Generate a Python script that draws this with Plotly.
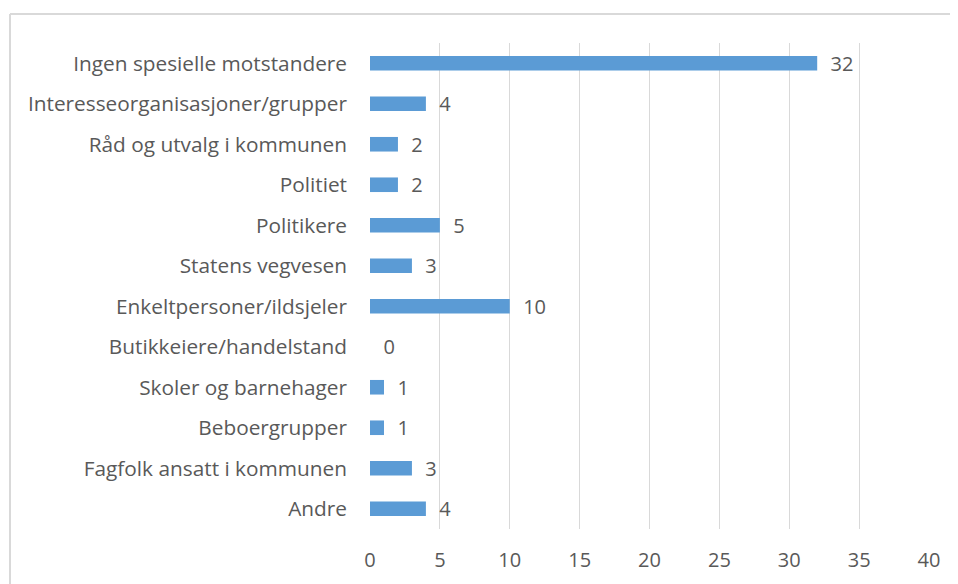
import plotly.graph_objects as go

categories = [
    "Ingen spesielle motstandere",
    "Interesseorganisasjoner/grupper",
    "Råd og utvalg i kommunen",
    "Politiet",
    "Politikere",
    "Statens vegvesen",
    "Enkeltpersoner/ildsjeler",
    "Butikkeiere/handelstand",
    "Skoler og barnehager",
    "Beboergrupper",
    "Fagfolk ansatt i kommunen",
    "Andre",
]
values = [32, 4, 2, 2, 5, 3, 10, 0, 1, 1, 3, 4]
x_ticks = [0, 5, 10, 15, 20, 25, 30, 35, 40]

# page has an 8px body margin, so the figure is drawn offset by (8, 8)
W, H = 950, 576
L, R, T, B = 362, 29, 35, 55
pw = W - L - R
ph = H - T - B

FONT = "Open Sans"
GREY = "#595959"

fig = go.Figure()
fig.add_trace(go.Bar(
    y=categories, x=values, orientation="h",
    marker=dict(color="#5b9bd5", line=dict(width=0)),
    width=0.36,
    text=[f"  {v}" for v in values], textposition="outside", cliponaxis=False,
    constraintext="none",
    textfont=dict(family=FONT, size=20, color=GREY),
))

# chart border (top and left edges)
x_left = (2 - L) / pw
y_top = (H - B - 6) / ph
fig.add_shape(type="line", xref="paper", yref="paper", x0=x_left, x1=(W - L + 20) / pw,
              y0=y_top, y1=y_top, line=dict(color="#d9d9d9", width=2))
fig.add_shape(type="line", xref="paper", yref="paper", x0=x_left, x1=x_left,
              y0=y_top, y1=-0.3, line=dict(color="#d9d9d9", width=2))

fig.update_layout(
    width=W, height=H,
    margin=dict(l=L, r=R, t=T, b=B),
    paper_bgcolor="white", plot_bgcolor="white",
    showlegend=False,
    font=dict(family=FONT, size=20, color=GREY),
)
fig.update_xaxes(range=[0, 40], tickvals=x_ticks, showgrid=True, gridcolor="#d9d9d9",
                 gridwidth=1, zeroline=False, showline=False, ticks="",
                 ticklabelstandoff=17,
                 tickfont=dict(family=FONT, size=20, color=GREY))
fig.update_yaxes(autorange="reversed", showgrid=False, zeroline=False, showline=False,
                 ticks="", ticklabelstandoff=22,
                 tickfont=dict(family=FONT, size=20.8, color=GREY))

fig.write_html("out.html")
